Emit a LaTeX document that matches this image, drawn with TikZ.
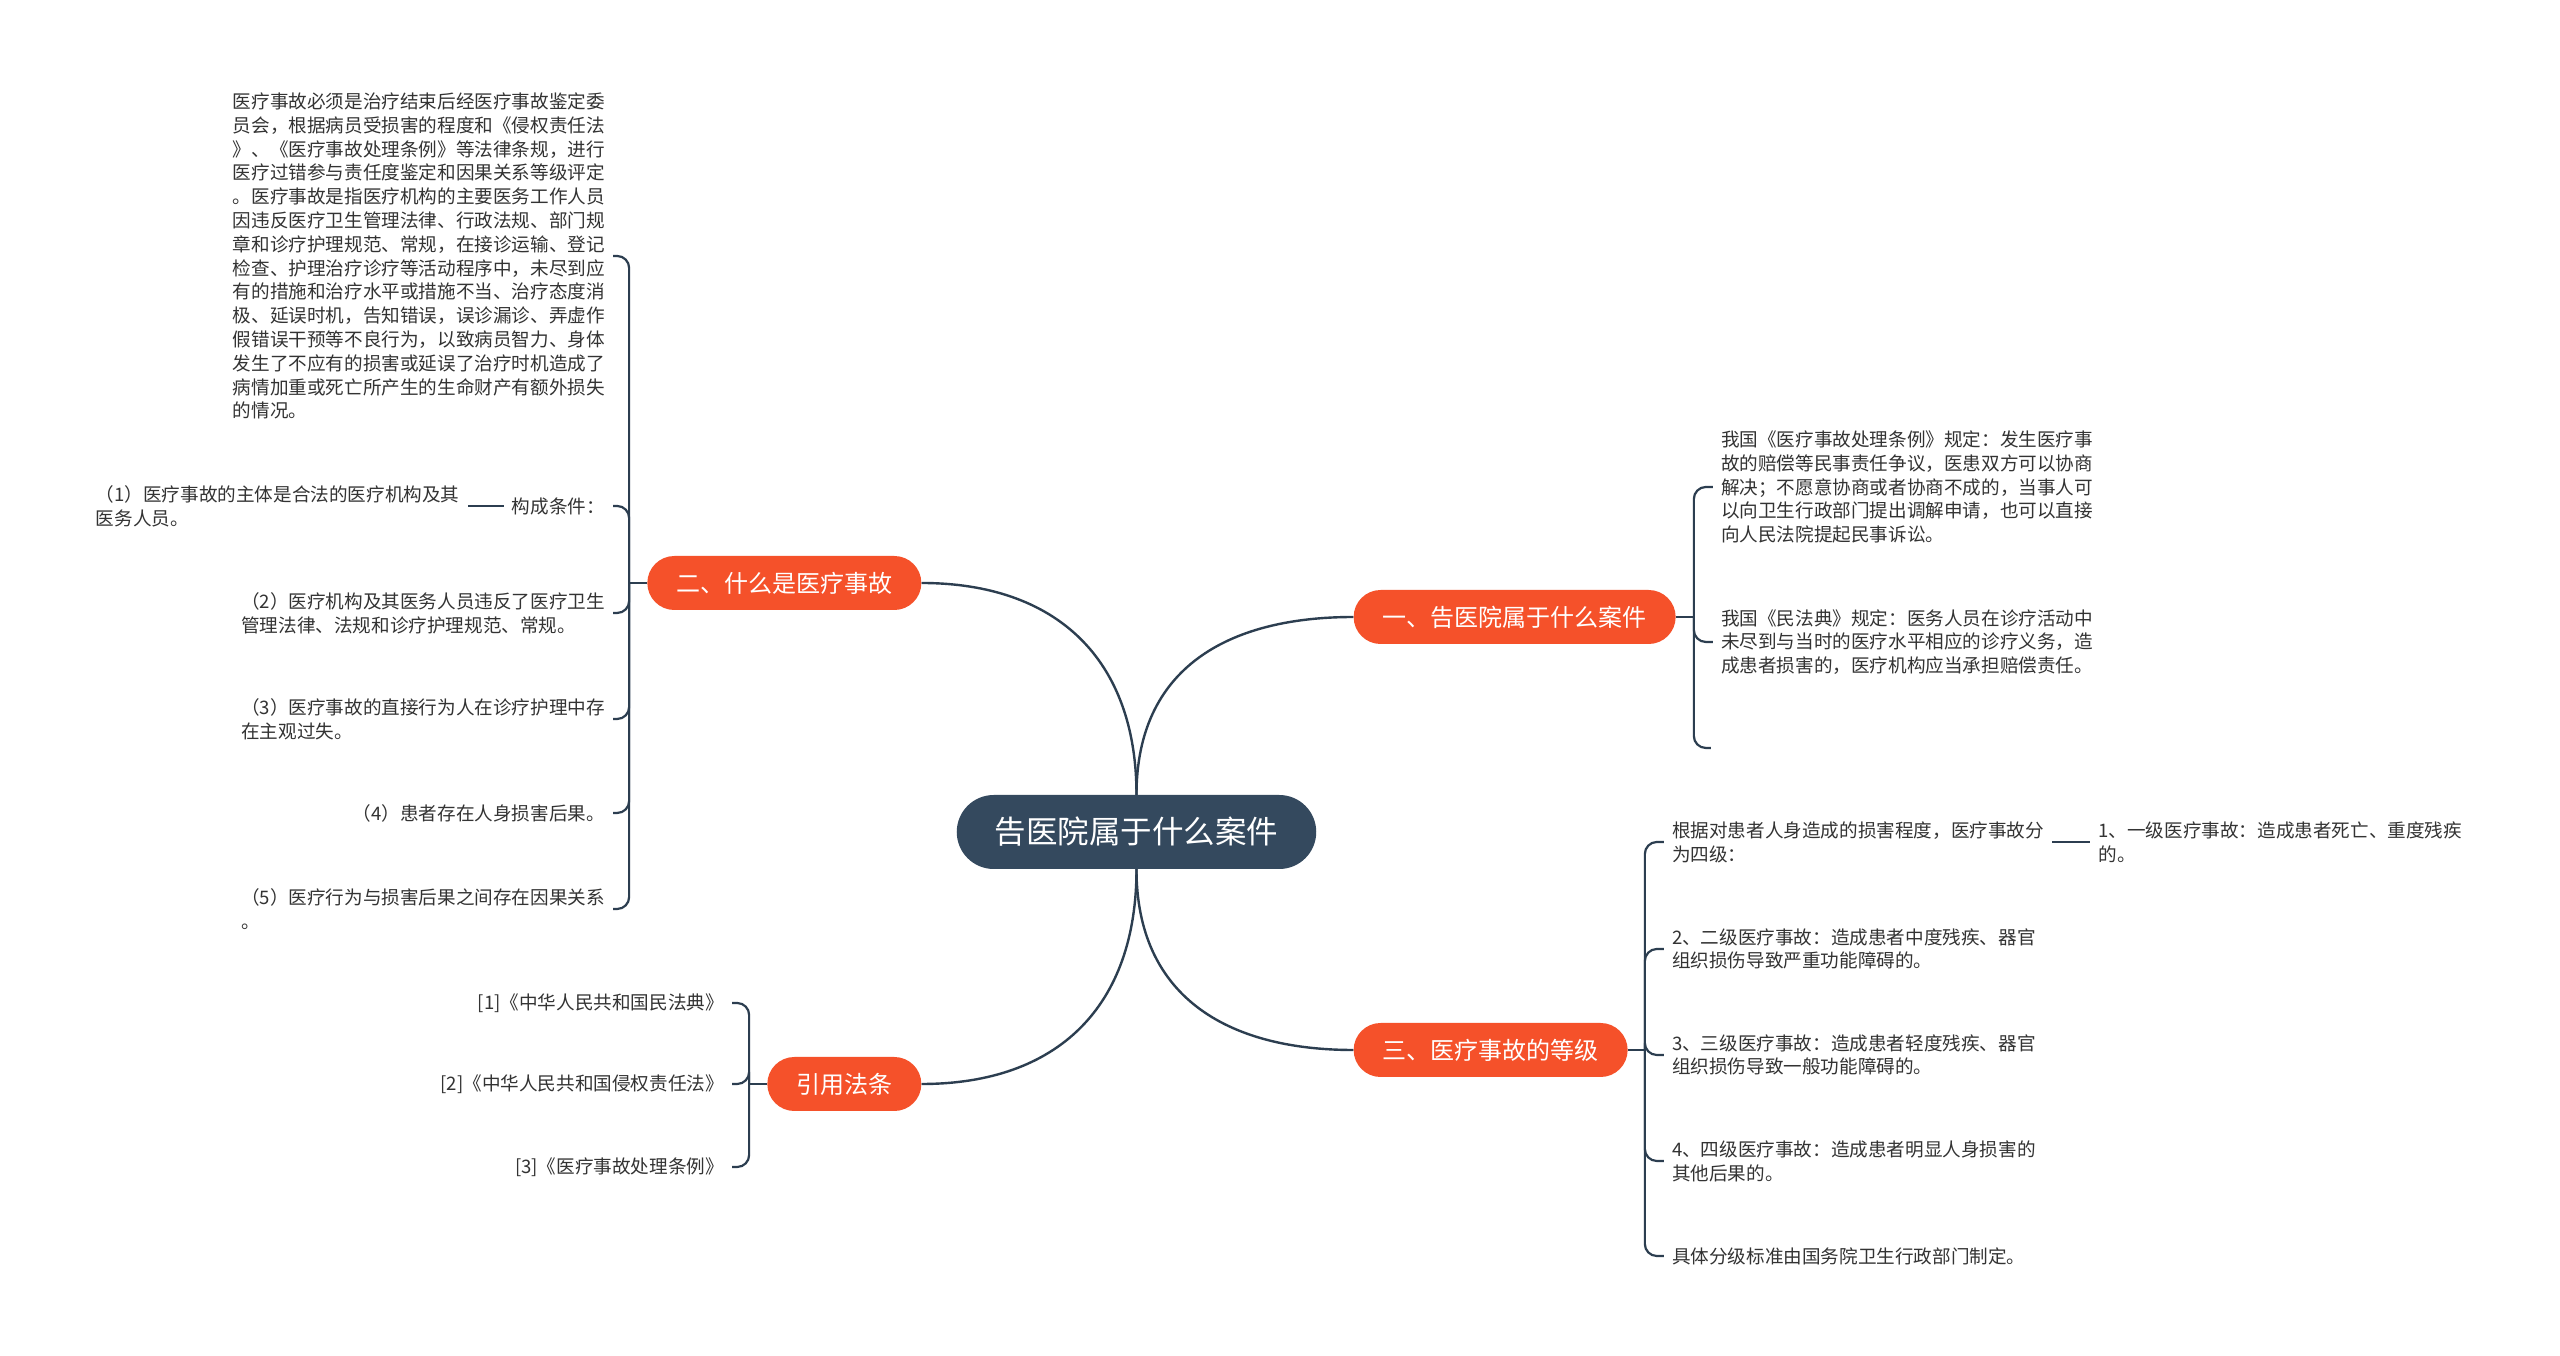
\documentclass[tikz,border=0pt]{standalone}
\usepackage{fontspec}
\setmainfont{Noto Sans CJK SC}
\usepackage{tikz}
\usetikzlibrary{positioning}
\definecolor{rootc}{HTML}{34495E}
\definecolor{topicc}{HTML}{F5512A}
\definecolor{linkc}{HTML}{2C3E50}

\begin{document}
\begin{tikzpicture}[
  root/.style={fill=rootc,text=white,rounded corners=37pt,inner xsep=38pt,minimum height=74pt,font=\fontsize{31.5pt}{36pt}\selectfont},
  topic/.style={fill=topicc,text=white,rounded corners=27pt,inner xsep=29pt,minimum height=54pt,font=\fontsize{24pt}{28pt}\selectfont},
  leaf/.style={text=black!80,align=left,inner xsep=8pt,inner ysep=3pt,font=\fontsize{18.6pt}{23.8pt}\selectfont},
  link/.style={draw=linkc,line width=2.4pt},
  brace/.style={draw=linkc,line width=2.2pt,rounded corners=12pt}]
  \useasboundingbox (-1136.5pt,-524pt) rectangle (1423.5pt,832pt);
  \fill[white] (-1136.5pt,-524pt) rectangle (1423.5pt,832pt);
  \node[root] (root) {告医院属于什么案件};
  % main branches
  \node[topic,right=37pt of root,yshift=215pt] (case) {一、告医院属于什么案件};
  \node[topic,right=37pt of root,yshift=-218pt] (grade) {三、医疗事故的等级};
  \node[topic,left=35pt of root,yshift=249pt] (what) {二、什么是医疗事故};
  \node[topic,left=35pt of root,yshift=-252pt] (cite) {引用法条};
  \draw[link] (root.north) to[out=90,in=180,looseness=1.15] (case.west);
  \draw[link] (root.north) to[out=90,in=0,looseness=1.15] (what.east);
  \draw[link] (root.south) to[out=-90,in=180,looseness=1.15] (grade.west);
  \draw[link] (root.south) to[out=-90,in=0,looseness=1.15] (cite.east);

  % 一、告医院属于什么案件
  \node[leaf,right=37pt of case,yshift=130pt] (rule) {我国《医疗事故处理条例》规定：发生医疗事\\故的赔偿等民事责任争议，医患双方可以协商\\解决；不愿意协商或者协商不成的，当事人可\\以向卫生行政部门提出调解申请，也可以直接\\向人民法院提起民事诉讼。};
  \node[leaf,right=37pt of case,yshift=-25pt] (code) {我国《民法典》规定：医务人员在诊疗活动中\\未尽到与当时的医疗水平相应的诊疗义务，造\\成患者损害的，医疗机构应当承担赔偿责任。};
  \coordinate[right=18pt of case] (casej);
  \coordinate[below right=131pt and 17pt of casej] (caseend);
  \draw[link] (case.east) -- (casej);
  \draw[brace] (casej) |- (rule.west);
  \draw[brace] (casej) |- (code.west);
  \draw[brace] (casej) |- (caseend);

  % 三、医疗事故的等级
  \node[leaf,right=36pt of grade,yshift=208pt] (four) {根据对患者人身造成的损害程度，医疗事故分\\为四级：};
  \node[leaf,right=38pt of four] (lvone) {1、一级医疗事故：造成患者死亡、重度残疾\\的。};
  \node[leaf,right=36pt of grade,yshift=101pt] (lvtwo) {2、二级医疗事故：造成患者中度残疾、器官\\组织损伤导致严重功能障碍的。};
  \node[leaf,right=36pt of grade,yshift=-5pt] (lvthree) {3、三级医疗事故：造成患者轻度残疾、器官\\组织损伤导致一般功能障碍的。};
  \node[leaf,right=36pt of grade,yshift=-111pt] (lvfour) {4、四级医疗事故：造成患者明显人身损害的\\其他后果的。};
  \node[leaf,right=36pt of grade,yshift=-206pt] (std) {具体分级标准由国务院卫生行政部门制定。};
  \coordinate[right=17pt of grade] (gradej);
  \draw[link] (grade.east) -- (gradej);
  \foreach \n in {four,lvtwo,lvthree,lvfour,std}
    \draw[brace] (gradej) |- (\n.west);
  \draw[link] (four.east) -- (lvone.west);

  % 二、什么是医疗事故
  \node[leaf,left=34pt of what,yshift=327pt] (defn) {医疗事故必须是治疗结束后经医疗事故鉴定委\\员会，根据病员受损害的程度和《侵权责任法\\》、《医疗事故处理条例》等法律条规，进行\\医疗过错参与责任度鉴定和因果关系等级评定\\。医疗事故是指医疗机构的主要医务工作人员\\因违反医疗卫生管理法律、行政法规、部门规\\章和诊疗护理规范、常规，在接诊运输、登记\\检查、护理治疗诊疗等活动程序中，未尽到应\\有的措施和治疗水平或措施不当、治疗态度消\\极、延误时机，告知错误，误诊漏诊、弄虚作\\假错误干预等不良行为，以致病员智力、身体\\发生了不应有的损害或延误了治疗时机造成了\\病情加重或死亡所产生的生命财产有额外损失\\的情况。};
  \node[leaf,left=34pt of what,yshift=77pt] (cond) {构成条件：};
  \node[leaf,left=36pt of cond] (condone) {（1）医疗事故的主体是合法的医疗机构及其\\医务人员。};
  \node[leaf,left=34pt of what,yshift=-30pt] (condtwo) {（2）医疗机构及其医务人员违反了医疗卫生\\管理法律、法规和诊疗护理规范、常规。};
  \node[leaf,left=34pt of what,yshift=-136pt] (condthree) {（3）医疗事故的直接行为人在诊疗护理中存\\在主观过失。};
  \node[leaf,left=34pt of what,yshift=-230pt] (condfour) {（4）患者存在人身损害后果。};
  \node[leaf,left=34pt of what,yshift=-326pt] (condfive) {（5）医疗行为与损害后果之间存在因果关系\\。};
  \coordinate[left=18pt of what] (whatj);
  \draw[link] (what.west) -- (whatj);
  \foreach \n in {defn,cond,condtwo,condthree,condfour,condfive}
    \draw[brace] (whatj) |- (\n.east);
  \draw[link] (cond.west) -- (condone.east);

  % 引用法条
  \node[leaf,left=35pt of cite,yshift=81pt] (lawone) {[1]《中华人民共和国民法典》};
  \node[leaf,left=35pt of cite] (lawtwo) {[2]《中华人民共和国侵权责任法》};
  \node[leaf,left=35pt of cite,yshift=-83pt] (lawthree) {[3]《医疗事故处理条例》};
  \coordinate[left=18pt of cite] (citej);
  \draw[link] (cite.west) -- (citej);
  \foreach \n in {lawone,lawtwo,lawthree}
    \draw[brace] (citej) |- (\n.east);
\end{tikzpicture}
\end{document}
